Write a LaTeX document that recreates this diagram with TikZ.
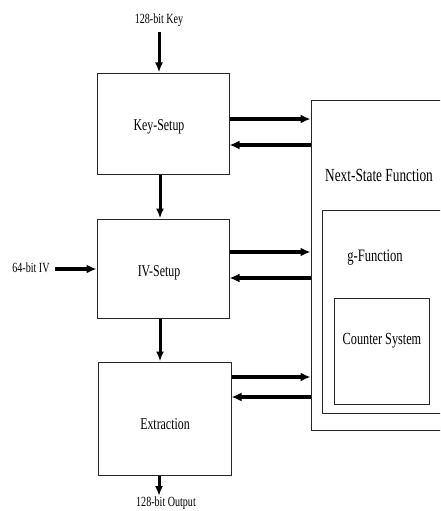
\documentclass[tikz,border=0pt]{standalone}
\usepackage{fontspec}
\setmainfont[FakeStretch=0.72]{Liberation Serif}
\usetikzlibrary{arrows.meta}
\begin{document}
\begin{tikzpicture}[x=1pt,y=-1pt,
  box/.style={draw=black!85,line width=1pt,rectangle,inner sep=0pt},
  boxtext/.style={inner sep=0pt,font=\fontsize{16.5}{18}\selectfont},
  lbl/.style={inner sep=1pt,font=\fontsize{17.5}{19}\selectfont},
  small/.style={inner sep=1pt,font=\fontsize{14}{16}\selectfont},
  harr/.style={line width=3.5pt,-{Latex[length=10pt,width=9pt]}},
  varr/.style={line width=3pt,-{Latex[length=10pt,width=8pt]}}]
\useasboundingbox (0,0) rectangle (440,511);
\clip (0,0) rectangle (440,511);
% left column boxes
\node[box,minimum width=132pt,minimum height=101pt] (ks) at (163,123.5) {};
\node[box,minimum width=132pt,minimum height=99pt] (iv) at (163,268.5) {};
\node[box,minimum width=133pt,minimum height=113pt] (ext) at (164.5,418.5) {};
\node[boxtext] (kst) at (159,127) {Key-Setup};
\node[boxtext] (ivt) at (159,273) {IV-Setup};
\node[boxtext] (extt) at (165,424) {Extraction};
% right nested boxes
\node[box,minimum width=149pt,minimum height=330pt] (ns) at (385.5,265) {};
\node[box,minimum width=133pt,minimum height=203pt] (gf) at (388.5,311.5) {};
\node[box,minimum width=95pt,minimum height=106pt] (cs) at (381.5,351) {};
\node[lbl,font=\fontsize{18.5}{20}\selectfont] (nst) at (379,175) {Next-State Function};
\node[lbl] (gft) at (375,258) {g-Function};
\node[lbl,font=\fontsize{17}{19}\selectfont] (cst) at (382,341) {Counter System};
% outside labels
\node[small] (key) at (159,20) {128-bit Key};
\node[small] (ivin) at (31,268) {64-bit IV};
\node[small] (out) at (166,503) {128-bit Output};
\coordinate (keytop) at (159,32);
\coordinate (outend) at (159,496);
% vertical arrows
\draw[varr] (keytop) -- (keytop |- ks.north);
\draw[varr] (ks.south -| 160,0) -- (iv.north -| 160,0);
\draw[varr] (iv.south -| 160,0) -- (ext.north -| 160,0);
\draw[varr] (ext.south -| outend) -- (outend);
% IV input
\draw[harr] (55,269) -- (iv.west |- 0,269);
% links to next-state function
\draw[harr] (ks.east |- 0,119) -- (ns.west |- 0,119);
\draw[harr] (ns.west |- 0,145) -- (ks.east |- 0,145);
\draw[harr] (iv.east |- 0,252) -- (ns.west |- 0,252);
\draw[harr] (ns.west |- 0,278) -- (iv.east |- 0,278);
\draw[harr] (ext.east |- 0,377) -- (ns.west |- 0,377);
\draw[harr] (ns.west |- 0,397) -- (ext.east |- 0,397);
\end{tikzpicture}
\end{document}
